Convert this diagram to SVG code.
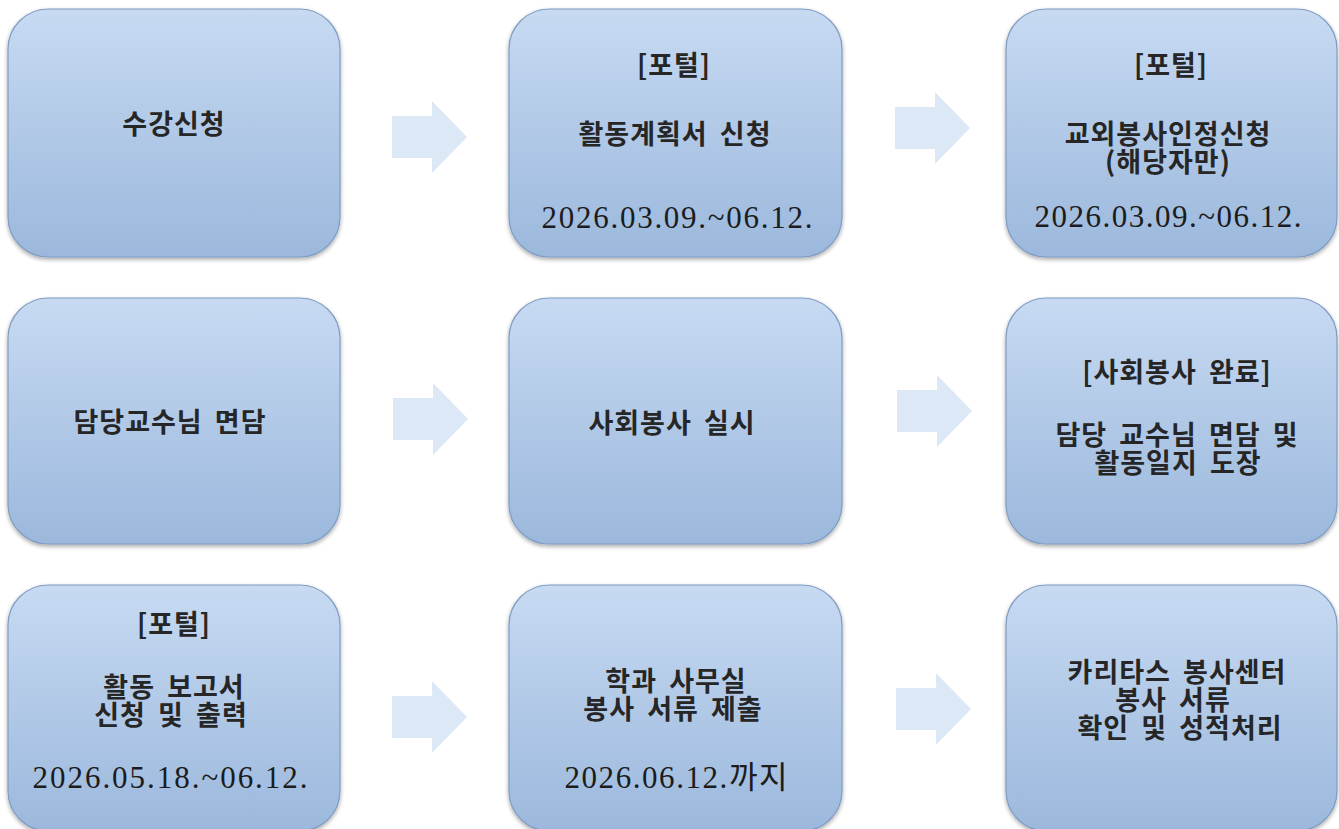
<svg xmlns="http://www.w3.org/2000/svg" xmlns:xlink="http://www.w3.org/1999/xlink" width="1339" height="829" viewBox="0 0 1339 829">
<defs>
<linearGradient id="g" x1="0" y1="0" x2="0" y2="1">
<stop offset="0" stop-color="#c7daf2"/>
<stop offset="1" stop-color="#9bb8dc"/>
</linearGradient>
<filter id="sh" x="-5%" y="-5%" width="110%" height="115%">
<feGaussianBlur in="SourceAlpha" stdDeviation="2"/>
<feOffset dx="0" dy="2" result="b"/>
<feComponentTransfer><feFuncA type="linear" slope="0.35"/></feComponentTransfer>
<feMerge><feMergeNode/><feMergeNode in="SourceGraphic"/></feMerge>
</filter>
<path id="arr" d="M0,15 H40 V0 L75,36 L40,72 V57 H0 Z"/>
</defs>
<style>
.box{fill:url(#g);stroke:#7f9cc3;stroke-width:1.2;filter:url(#sh)}
.t{font-family:"Noto Sans CJK KR","Liberation Sans",sans-serif;font-size:27px;font-weight:bold;fill:#262626;text-anchor:middle;word-spacing:5px;letter-spacing:1px}
.d{font-family:"Liberation Serif","Noto Sans CJK KR",serif;font-size:31px;fill:#1c1c1c;text-anchor:middle}
.a{fill:#dde8f6}
</style>
<rect width="1339" height="829" fill="#ffffff"/>
<g id="connectors">
<use xlink:href="#arr" class="a" x="392" y="101"/>
<use xlink:href="#arr" class="a" x="895" y="92"/>
<use xlink:href="#arr" class="a" x="393" y="383"/>
<use xlink:href="#arr" class="a" x="897" y="375"/>
<use xlink:href="#arr" class="a" x="392" y="681"/>
<use xlink:href="#arr" class="a" x="896" y="673"/>
</g>
<g id="n1">
<rect class="box" x="8" y="9" width="332" height="248" rx="40"/>
<text class="t" x="174" y="134">수강신청</text>
</g>
<g id="n2">
<rect class="box" x="509" y="9" width="333" height="248" rx="40"/>
<text class="t" x="674" y="75">[포털]</text>
<text class="t" x="675" y="144">활동계획서 신청</text>
<text class="d" x="677" y="228" textLength="271">2026.03.09.~06.12.</text>
</g>
<g id="n3">
<rect class="box" x="1006" y="9" width="331" height="248" rx="40"/>
<text class="t" x="1171" y="75">[포털]</text>
<text class="t"><tspan x="1168" y="144">교외봉사인정신청</tspan><tspan x="1168" y="172">(해당자만)</tspan></text>
<text class="d" x="1168" y="227" textLength="267">2026.03.09.~06.12.</text>
</g>
<g id="n4">
<rect class="box" x="8" y="298" width="332" height="246" rx="40"/>
<text class="t" x="170" y="432">담당교수님 면담</text>
</g>
<g id="n5">
<rect class="box" x="509" y="298" width="333" height="246" rx="40"/>
<text class="t" x="672" y="433">사회봉사 실시</text>
</g>
<g id="n6">
<rect class="box" x="1006" y="298" width="331" height="246" rx="40"/>
<text class="t" x="1177" y="382">[사회봉사 완료]</text>
<text class="t"><tspan x="1177" y="445">담당 교수님 면담 및</tspan><tspan x="1178" y="473">활동일지 도장</tspan></text>
</g>
<g id="n7">
<rect class="box" x="8" y="585" width="332" height="246" rx="40"/>
<text class="t" x="174" y="634">[포털]</text>
<text class="t"><tspan x="174" y="697">활동 보고서</tspan><tspan x="171" y="725">신청 및 출력</tspan></text>
<text class="d" x="170" y="788" textLength="275">2026.05.18.~06.12.</text>
</g>
<g id="n8">
<rect class="box" x="509" y="585" width="333" height="246" rx="40"/>
<text class="t"><tspan x="676" y="691">학과 사무실</tspan><tspan x="673" y="719">봉사 서류 제출</tspan></text>
<text class="d" x="676" y="788" textLength="223">2026.06.12.까지</text>
</g>
<g id="n9">
<rect class="box" x="1006" y="585" width="331" height="246" rx="40"/>
<text class="t"><tspan x="1177" y="682">카리타스 봉사센터</tspan><tspan x="1173" y="710">봉사 서류</tspan><tspan x="1180" y="738">확인 및 성적처리</tspan></text>
</g>
</svg>
